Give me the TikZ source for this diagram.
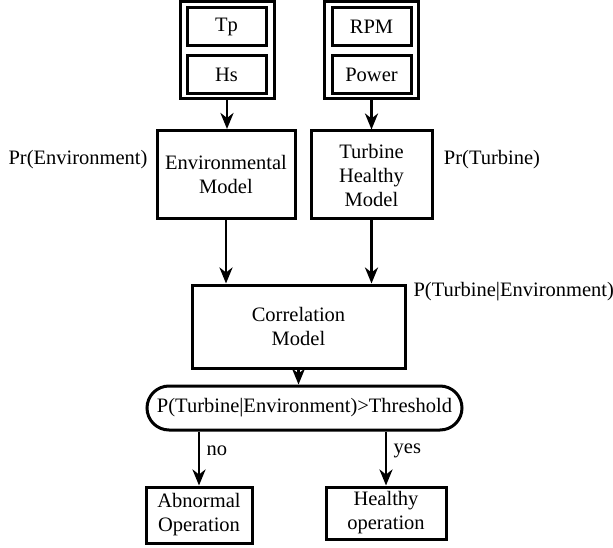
\documentclass[tikz,border=0pt]{standalone}
\usepackage{fontspec}
\setmainfont{Liberation Serif}
\usepackage{tikz}
\usetikzlibrary{arrows.meta}
\usetikzlibrary{positioning}
\tikzset{
  bloco/.style={draw, line width=3pt, align=center, inner sep=2pt, minimum width=#1},
  bloco/.default=80pt,
  entrada/.style={bloco=79pt, minimum height=38pt},
  pilha/.style={draw, line width=3pt, minimum width=94pt, minimum height=97pt},
  teste/.style={draw, line width=3pt, rounded corners=22pt, minimum width=315pt, minimum height=44pt, inner sep=0pt},
  seta/.style={-{Stealth[length=16pt, width=13pt, inset=5pt]}, line width=2.8pt},
}

\begin{document}
\begin{tikzpicture}[x=1pt, y=-1pt, node distance=7pt, font=\fontsize{20.5}{24}\selectfont]
  \useasboundingbox (0,0) rectangle (613,548);
  % entradas
  \node[pilha] (amb) at (227,50) {};
  \node[entrada] (tp) at (226.5,27) {Tp};
  \node[entrada, below=of tp] (hs) {Hs};
  \node[pilha] (turb) at (371.5,50) {};
  \node[entrada] (rpm) at (371.5,27) {RPM};
  \node[entrada, below=of rpm] (pot) {Power};
  % modelos
  \node[bloco=138pt, minimum height=88pt] (mamb) at (226,174.5) {Environmental\\Model};
  \node[bloco=121pt, minimum height=88pt] (mturb) at (371.5,175) {Turbine\\Healthy\\Model};
  \node (pamb) at (78,160) {Pr(Environment)};
  \node (pturb) at (492,160) {Pr(Turbine)};
  \node[bloco=213pt, minimum height=83pt] (corr) at (298.5,326.5) {Correlation\\Model};
  \node[anchor=west] (pcorr) at (410,292) {P(Turbine|Environment)};
  % decisao
  \node[teste] (lim) at (304.5,408) {P(Turbine|Environment)>Threshold};
  \node[bloco=106pt, minimum height=56pt] (anorm) at (199,515) {Abnormal\\Operation};
  \node[bloco=120pt, minimum height=52pt] (saud) at (386,513) {Healthy\\operation};
  \draw[seta] (amb.south) -- (mamb.north -| amb.south);
  \draw[seta] (turb.south) -- (mturb.north -| turb.south);
  \draw[seta] (mamb.south) -- (corr.north -| mamb.south);
  \draw[seta] (mturb.south) -- (corr.north -| mturb.south);
  \draw[seta] (corr.south) -- (lim.north -| corr.south);
  \draw[seta] (lim.south -| anorm.north) -- node[right=3pt, pos=0.35] {no} (anorm.north);
  \draw[seta] (lim.south -| saud.north) -- node[right=3pt, pos=0.35] {yes} (saud.north);
\end{tikzpicture}
\end{document}
